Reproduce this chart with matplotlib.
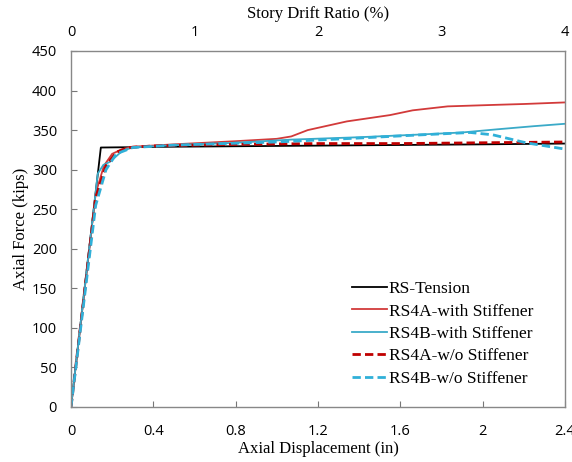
import matplotlib
matplotlib.use("Agg")
import matplotlib.pyplot as plt

# Data (axial displacement in inches, axial force in kips)
rs_x = [0, 0.145, 0.5, 1.0, 1.5, 2.0, 2.4]
rs_y = [0, 328, 329, 330, 331, 332, 333]

a_ws_x = [0, 0.12, 0.16, 0.2, 0.25, 0.3, 0.5, 0.8, 1.0, 1.07, 1.15, 1.34, 1.55, 1.66, 1.83, 2.07, 2.2, 2.4]
a_ws_y = [0, 270, 305, 320, 326, 329, 332, 336, 339, 342, 350, 361, 369, 375, 380, 382, 383, 385]

b_ws_x = [0, 0.13, 0.157, 0.19, 0.25, 0.3, 0.5, 0.8, 1.07, 1.4, 1.66, 1.9, 2.07, 2.25, 2.4]
b_ws_y = [0, 295, 306, 310, 324, 328, 331, 334, 338, 341, 344, 347, 351, 355, 358]

a_wo_x = [0, 0.12, 0.17, 0.22, 0.28, 0.4, 0.8, 1.2, 1.6, 2.0, 2.4]
a_wo_y = [0, 265, 305, 322, 328, 330, 332, 333, 333, 334, 335]

b_wo_x = [0, 0.12, 0.17, 0.22, 0.3, 0.5, 1.0, 1.4, 1.7, 1.94, 2.05, 2.21, 2.4]
b_wo_y = [0, 255, 300, 320, 328, 331, 335, 340, 344, 347, 344, 334, 326]

labels = ["RS-Tension", "RS4A-with Stiffener", "RS4B-with Stiffener",
          "RS4A-w/o Stiffener", "RS4B-w/o Stiffener"]
x_ticks = [0, 0.4, 0.8, 1.2, 1.6, 2, 2.4]
x_tick_labels = ["0", "0.4", "0.8", "1.2", "1.6", "2", "2.4"]
y_ticks = list(range(0, 451, 50))
top_ticks = [0, 1, 2, 3, 4]

serif = "Liberation Serif"
sans = "Open Sans"

fig = plt.figure(figsize=(5.72, 4.62), dpi=100)
ax = fig.add_axes([71/572, 55/462, (565-71)/572, (407-51)/462])

ax.plot(rs_x, rs_y, color="black", lw=1.3, label=labels[0])
ax.plot(a_ws_x, a_ws_y, color="#D23A3A", lw=1.3, label=labels[1])
ax.plot(b_ws_x, b_ws_y, color="#3AAAC8", lw=1.3, label=labels[2])
ax.plot(a_wo_x, a_wo_y, color="#C00000", lw=2.0, ls=(0, (3, 1.5)), label=labels[3])
ax.plot(b_wo_x, b_wo_y, color="#30B0D8", lw=2.0, ls=(0, (3, 1.5)), label=labels[4])

ax.set_xlim(0, 2.4)
ax.set_ylim(0, 450)
ax.set_xticks(x_ticks)
ax.set_xticklabels(x_tick_labels, fontfamily=sans, fontsize=10.5)
ax.set_yticks(y_ticks)
ax.set_yticklabels([str(v) for v in y_ticks], fontfamily=sans, fontsize=10.5)
ax.tick_params(direction="in", length=4, color="#777777")
ax.tick_params(axis="x", pad=12)
ax.tick_params(axis="y", pad=10)

for s in ax.spines.values():
    s.set_color("#888888")
    s.set_linewidth(1.0)

ax.set_xlabel("Axial Displacement (in)", fontfamily=serif, fontsize=12, labelpad=2)
ax.set_ylabel("Axial Force (kips)", fontfamily=serif, fontsize=12, labelpad=2)

ax2 = ax.twiny()
ax2.set_xlim(0, 4)
ax2.set_xticks(top_ticks)
ax2.set_xticklabels([str(t) for t in top_ticks], fontfamily=sans, fontsize=10.5)
ax2.tick_params(direction="in", length=0, pad=8)
ax2.set_xlabel("Story Drift Ratio (%)", fontfamily=serif, fontsize=12, labelpad=5)
for s in ax2.spines.values():
    s.set_visible(False)

leg = ax.legend(loc="upper left", bbox_to_anchor=(0.569, 0.354), frameon=False,
                prop={"family": serif, "size": 12.5}, handlelength=2.0,
                handletextpad=0.1, labelspacing=0.36, borderpad=0, borderaxespad=0)

fig.savefig("out.png", dpi=100)
